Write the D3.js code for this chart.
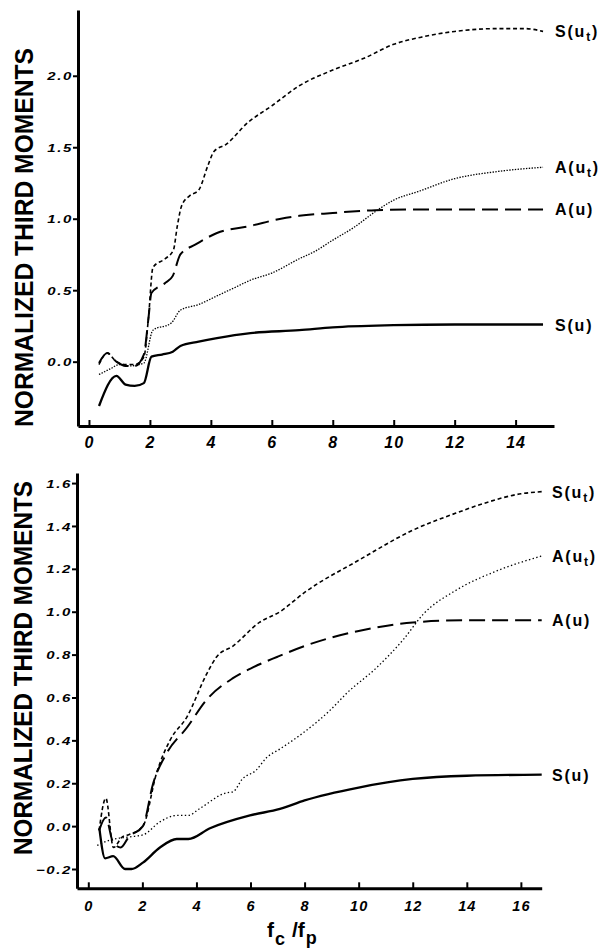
<!DOCTYPE html>
<html><head><meta charset="utf-8">
<script src="https://cdn.jsdelivr.net/npm/d3@7"></script>
<style>body{margin:0;background:#fff} svg{display:block}</style>
</head><body>
<script>
// ---------- DATA ----------
// Top panel (x = fc/fp)
const topXTicks = [0, 2, 4, 6, 8, 10, 12, 14];
const topYTicks = [0.0, 0.5, 1.0, 1.5, 2.0];

const topSu_x  = [0.33,0.9,1.2,1.5,1.8,2.05,2.4,2.75,3.0,3.6,4.2,5.3,6.9,8,10,12,14.9];
const topSu_y  = [-0.31,-0.10,-0.16,-0.17,-0.15,0.035,0.05,0.07,0.11,0.14,0.165,0.20,0.22,0.24,0.255,0.26,0.26];

const topSut_x = [0.33,0.6,0.9,1.2,1.5,1.8,1.95,2.1,2.5,2.77,2.9,3.04,3.3,3.6,3.9,4.1,4.5,5.2,6.0,6.9,8,9,10,10.9,12,13.4,14.3,14.9];
const topSut_y = [-0.02,0.06,0.0,-0.02,-0.02,0.03,0.3,0.66,0.72,0.78,0.95,1.09,1.16,1.20,1.37,1.47,1.52,1.67,1.79,1.93,2.04,2.12,2.22,2.27,2.31,2.33,2.33,2.31];

const topAu_x  = [0.33,0.6,0.9,1.2,1.5,1.8,1.95,2.05,2.5,2.75,3.0,3.5,4.2,5.3,6.3,6.9,8,9.4,11,13,14.9];
const topAu_y  = [-0.01,0.06,0.0,-0.03,-0.03,0.05,0.3,0.48,0.55,0.60,0.75,0.82,0.90,0.95,1.0,1.02,1.04,1.06,1.065,1.065,1.065];

const topAut_x = [0.33,0.7,1.0,1.3,1.8,2.1,2.7,3.0,3.6,4.2,4.8,5.3,6.0,6.9,7.4,8,8.7,9.4,10,10.8,12,13.4,14.9];
const topAut_y = [-0.09,-0.05,-0.02,-0.03,-0.01,0.22,0.27,0.36,0.40,0.46,0.52,0.57,0.62,0.72,0.77,0.85,0.94,1.05,1.13,1.19,1.28,1.33,1.36];

// Bottom panel
const botXTicks = [0, 2, 4, 6, 8, 10, 12, 14, 16];
const botYTicks = [-0.2, 0.0, 0.2, 0.4, 0.6, 0.8, 1.0, 1.2, 1.4, 1.6];

const botSu_x  = [0.41,0.62,0.92,1.36,1.6,2.02,2.65,3.27,3.7,4.5,5.98,7.09,8,10,12,14,16.77];
const botSu_y  = [-0.01,-0.15,-0.14,-0.20,-0.20,-0.17,-0.10,-0.06,-0.06,-0.01,0.05,0.08,0.12,0.18,0.22,0.235,0.24];

const botSut_x = [0.4,0.65,0.93,1.26,1.5,2.02,2.53,3.02,3.65,4.38,4.75,5.35,6.33,7.09,8,10,12,13.6,14.5,16,16.77];
const botSut_y = [-0.02,0.13,-0.10,-0.05,-0.04,0.0,0.25,0.40,0.51,0.71,0.79,0.84,0.95,1.0,1.09,1.24,1.38,1.46,1.50,1.55,1.56];

const botAu_x  = [0.4,0.65,0.9,1.2,1.5,2.02,2.4,2.9,3.65,4.38,5.35,6.0,7.0,8,9,10,12,14,16.77];
const botAu_y  = [-0.02,0.04,-0.07,-0.10,-0.05,0.0,0.2,0.34,0.46,0.59,0.69,0.735,0.79,0.84,0.88,0.91,0.95,0.96,0.96];

const botAut_x = [0.33,0.8,1.55,2.04,2.65,3.27,3.7,4.1,5.1,5.35,5.7,6.2,6.6,7.09,8,8.94,9.56,10.67,11.65,12.4,13.6,15.1,16.77];
const botAut_y = [-0.09,-0.065,-0.05,-0.04,0.02,0.05,0.05,0.08,0.155,0.16,0.22,0.26,0.32,0.36,0.44,0.54,0.62,0.74,0.87,0.99,1.10,1.19,1.26];

const seriesNames = ["S(u_t)", "A(u_t)", "A(u)", "S(u)"];

// ---------- DRAW ----------
const svg = d3.select("body").append("svg").attr("width", 604).attr("height", 951);
const FONT = "'Liberation Sans', Arial, Helvetica, sans-serif";

const styles = {
  "S(u)":   {w: 2.3, dash: null},
  "S(u_t)": {w: 1.6, dash: "4,2.8"},
  "A(u)":   {w: 2.0, dash: "16,7"},
  "A(u_t)": {w: 1.3, dash: "1.4,1.4"}
};

function panel(cfg) {
  const x = d3.scaleLinear().domain(cfg.xDomain).range(cfg.xRange);
  const y = d3.scaleLinear().domain(cfg.yDomain).range(cfg.yRange);
  const g = svg.append("g");

  // x axis
  const xa = g.append("g").attr("transform", `translate(0,${cfg.yRange[0]})`)
    .call(d3.axisBottom(x).tickValues(cfg.xTicks).tickSize(-6).tickSizeOuter(0)
      .tickPadding(cfg.xPad).tickFormat(d3.format("d")));
  xa.select(".domain").attr("stroke-width", 3).attr("stroke", "#000");
  xa.selectAll(".tick line").attr("stroke-width", 2);
  xa.selectAll("text").attr("font-family", FONT).attr("font-weight", "bold")
    .attr("font-style", "italic").attr("font-size", cfg.xFont).attr("fill", "#000")
    .attr("letter-spacing", "1px");

  // y axis
  const ya = g.append("g").attr("transform", `translate(${cfg.xRange[0]},0)`)
    .call(d3.axisLeft(y).tickValues(cfg.yTicks).tickSize(5).tickSizeOuter(0)
      .tickPadding(0).tickFormat(d3.format(".1f")));
  ya.select(".domain").attr("stroke-width", 3).attr("stroke", "#000");
  ya.selectAll(".tick line").attr("stroke-width", 2);
  const sc = 1.3;
  ya.selectAll("text").attr("font-family", FONT).attr("font-weight", "bold")
    .attr("font-style", "italic").attr("font-size", 11.5).attr("fill", "#000")
    .attr("letter-spacing", "1.3px")
    .attr("dy", "0.36em")
    .attr("x", -5 / sc)
    .attr("transform", `scale(${sc},1)`);

  const line = d3.line().x(d => x(d[0])).y(d => y(d[1])).curve(d3.curveMonotoneX);

  cfg.series.forEach(s => {
    const pts = s.x.map((v, i) => [v, s.y[i]]);
    const st = styles[s.name];
    const dash = s.name === "A(u_t)" && cfg.autDash ? cfg.autDash : st.dash;
    g.append("path").datum(pts).attr("d", line)
      .attr("fill", "none").attr("stroke", "#000")
      .attr("stroke-width", st.w)
      .attr("stroke-dasharray", dash)
      .attr("stroke-linejoin", "round");

    const last = pts[pts.length - 1];
    const t = g.append("text").attr("x", cfg.labelX).attr("y", y(last[1]) + 6)
      .attr("font-family", FONT).attr("font-weight", "bold").attr("font-size", 16)
      .attr("letter-spacing", "1.8px").attr("fill", "#000");
    const m = s.name.match(/^(\w)\((\w)(?:_(\w))?\)$/);
    t.append("tspan").text(m[1] + "(" + m[2]);
    if (m[3]) {
      t.append("tspan").attr("font-size", 12).attr("dy", 4).text(m[3]);
      t.append("tspan").attr("dy", -4).text(")");
    } else {
      t.append("tspan").text(")");
    }
  });

  // y axis title
  g.append("text")
    .attr("transform", `translate(${cfg.titleX},${cfg.titleY}) rotate(-90)`)
    .attr("text-anchor", "middle")
    .attr("font-family", FONT).attr("font-weight", "bold").attr("font-size", 26)
    .attr("textLength", cfg.titleLen).attr("lengthAdjust", "spacingAndGlyphs")
    .attr("fill", "#000")
    .text("NORMALIZED THIRD MOMENTS");
}

panel({
  xDomain: [-0.36, 15.26], xRange: [78, 554],
  yDomain: [-0.45, 2.46], yRange: [426, 10],
  xTicks: topXTicks, yTicks: topYTicks, xFont: 16, xPad: 11,
  labelX: 555, titleX: 33, titleY: 237.5, titleLen: 379,
  series: [
    {name: "S(u_t)", x: topSut_x, y: topSut_y},
    {name: "A(u_t)", x: topAut_x, y: topAut_y},
    {name: "A(u)",   x: topAu_x,  y: topAu_y},
    {name: "S(u)",   x: topSu_x,  y: topSu_y}
  ]
});

panel({
  xDomain: [-0.418, 16.77], xRange: [77, 541.7],
  yDomain: [-0.29, 1.647], yRange: [888.3, 473],
  xTicks: botXTicks, yTicks: botYTicks, xFont: 14.5, xPad: 12,
  labelX: 552, titleX: 32, titleY: 668, titleLen: 374, autDash: "1.4,2.4",
  series: [
    {name: "S(u_t)", x: botSut_x, y: botSut_y},
    {name: "A(u_t)", x: botAut_x, y: botAut_y},
    {name: "A(u)",   x: botAu_x,  y: botAu_y},
    {name: "S(u)",   x: botSu_x,  y: botSu_y}
  ]
});

// x axis title: f_c / f_p
const xt = svg.append("text").attr("x", 267).attr("y", 937)
  .attr("font-family", FONT).attr("font-weight", "bold").attr("font-size", 21).attr("fill", "#000");
xt.append("tspan").text("f");
xt.append("tspan").attr("font-size", 18).attr("dy", 8).attr("dx", 1).text("c");
xt.append("tspan").attr("dy", -8).attr("dx", 7).text("/");
xt.append("tspan").attr("dx", 0).text("f");
xt.append("tspan").attr("font-size", 18).attr("dy", 7).attr("dx", 1).text("p");
</script>
</body></html>
